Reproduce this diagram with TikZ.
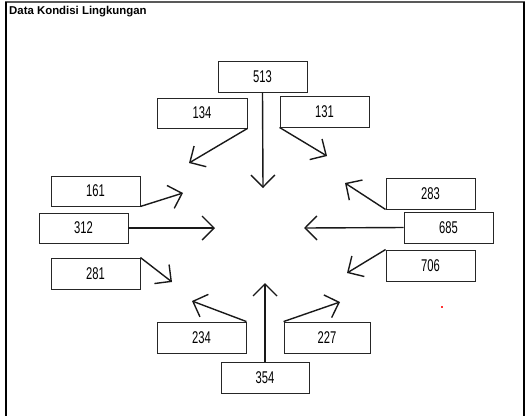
\documentclass[tikz,border=0pt]{standalone}
\usepackage{fontspec}
\setmainfont{Liberation Sans}
\usetikzlibrary{arrows.meta}
\tikzset{
  valbox/.style={draw=black!85, line width=0.9pt, rectangle, inner sep=0pt,
    font=\fontsize{17}{17}\selectfont},
  flow/.style={draw=black!90, line width=1.4pt,
    -{Straight Barb[length=12pt,width=24pt,line width=1.4pt]}},
}
\newcommand{\nv}[1]{\scalebox{0.66}[1]{#1}}
\begin{document}
\begin{tikzpicture}[x=1pt,y=-1pt]
\useasboundingbox (0,0) rectangle (526,416);
% frame
\draw[line width=2pt, black!65] (5,2) -- (525,2);
\draw[line width=2pt, black] (6,2) -- (6,416);
\draw[line width=2pt, black] (524,2) -- (524,416);
\node[anchor=base west, font=\bfseries\fontsize{11.4}{13}\selectfont, inner sep=0pt] (title) at (9,14) {Data Kondisi Lingkungan};
% boxes
\node[valbox, minimum width=89pt, minimum height=31pt] (b513) at (262.5,76.5) {\nv{513}};
\node[valbox, minimum width=90pt, minimum height=30pt] (b134) at (202,113) {\nv{134}};
\node[valbox, minimum width=89pt, minimum height=31pt] (b131) at (324.5,111.5) {\nv{131}};
\node[valbox, minimum width=89pt, minimum height=30pt] (b161) at (95.5,191) {\nv{161}};
\node[valbox, minimum width=89pt, minimum height=30pt] (b312) at (83.5,228) {\nv{312}};
\node[valbox, minimum width=89pt, minimum height=31pt] (b281) at (95.5,273.5) {\nv{281}};
\node[valbox, minimum width=89pt, minimum height=31pt] (b283) at (430.5,193.5) {\nv{283}};
\node[valbox, minimum width=89pt, minimum height=31pt] (b685) at (448.5,227.5) {\nv{685}};
\node[valbox, minimum width=89pt, minimum height=31pt] (b706) at (430.5,265.5) {\nv{706}};
\node[valbox, minimum width=89pt, minimum height=31pt] (b234) at (201.5,337.5) {\nv{234}};
\node[valbox, minimum width=86pt, minimum height=31pt] (b227) at (327,337.5) {\nv{227}};
\node[valbox, minimum width=88pt, minimum height=31pt] (b354) at (265,377.5) {\nv{354}};
% arrow ends
\coordinate (e513) at (263,188);
\coordinate (e134) at (189,163);
\coordinate (e131) at (327,156);
\coordinate (e161) at (183,193);
\coordinate (e312) at (215,228);
\coordinate (e281) at (172,282);
\coordinate (e283) at (345,183);
\coordinate (e685) at (304,228);
\coordinate (e706) at (347,273);
\coordinate (e234) at (192,301);
\coordinate (e227) at (340,302);
\coordinate (e354) at (265,283);
% arrows
\draw[flow] (b513.south) -- (e513);
\draw[flow] (b134.south east) -- (e134);
\draw[flow] (b131.south west) -- (e131);
\draw[flow] (b161.south east) -- (e161);
\draw[flow] (b312.east) -- (e312);
\draw[flow] (b281.north east) -- (e281);
\draw[flow] (b283.south west) -- (e283);
\draw[flow] (b685.west) -- (e685);
\draw[flow] (b706.north west) -- (e706);
\draw[flow] (b234.north east) -- (e234);
\draw[flow] (b227.north west) -- (e227);
\draw[flow] (b354.north) -- (e354);
% red speck
\fill[red!80] (441,306) rectangle (443,308);
\end{tikzpicture}
\end{document}
